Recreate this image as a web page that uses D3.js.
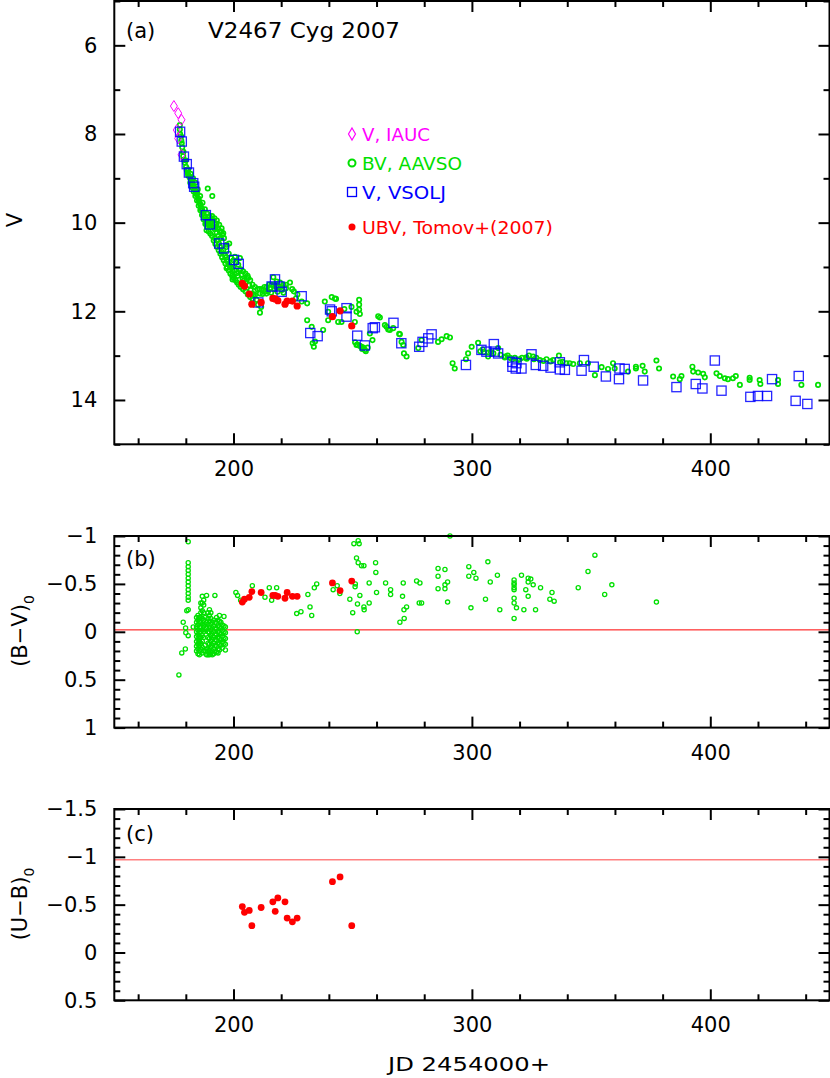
<!DOCTYPE html>
<html><head><meta charset="utf-8">
<script src="https://cdn.jsdelivr.net/npm/d3@7"></script>
<style>
body{margin:0;background:#fff;}
svg{display:block;}
text{font-family:"DejaVu Sans",sans-serif;fill:#000;}
</style></head>
<body>
<svg id="c" width="830" height="1078"></svg>
<script>
// ---------- DATA ----------
// Panel (a): V magnitude vs JD-2454000
const vIAUC = [[175.0,7.37],[176.8,7.53],[178.2,7.68],[176.2,7.91],[176.8,8.10],[178.2,8.47]];

const vVSOLJ = [
 [177.6,7.95],[178.3,8.17],[179.2,8.51],[180.4,8.68],[181.3,8.87],[183.1,9.11],[183.5,9.19],
 [188.4,9.83],[190.1,10.04],[194.0,10.47],[196.0,10.58],[200.2,10.84],[202.2,10.93],
 [217.4,11.28],[216.0,11.44],[219.3,11.44],[220.2,11.56],[228.6,11.66],[210.4,11.80],
 [240.5,11.96],[241.2,12.0],[247.4,11.93],[247.4,12.12],[232.2,12.49],[235.3,12.56],
 [251.9,12.55],[255.1,12.77],[258.4,12.38],[259.3,12.36],[267.1,12.26],[270.4,12.72],
 [277.9,12.80],[279.3,12.69],[281.7,12.61],[283.1,12.52],[297.5,13.21],[304.0,12.87],
 [306.1,12.91],[309.2,12.74],[309.6,12.91],[311.0,12.95],[317.0,13.14],[317.0,13.25],
 [318.7,13.17],[318.4,13.29],[320.8,13.29],[325.0,12.97],[326.8,13.21],[329.9,13.23],
 [333.0,13.27],[336.9,13.15],[336.9,13.31],[339.0,13.32],[346.0,13.34],[347.0,13.10],
 [351.1,13.25],[356.2,13.47],[361.7,13.53],[361.9,13.29],[364.1,13.30],[371.8,13.56],
 [385.8,13.71],[393.9,13.64],[396.7,13.74],[401.9,13.11],[404.7,13.79],[416.8,13.93],
 [420.0,13.91],[423.8,13.91],[425.9,13.53],[435.8,14.02],[437.1,13.46],[440.7,14.09]
];

const vAAVSO = [
 [177.5,7.8],[177.5,7.9],[177.6,8.0],[178.0,8.05],[178.1,8.15],[178.3,8.21],[178.5,8.3],[178.7,8.4],
 [178.9,8.5],[179.2,8.58],[179.6,8.65],[180.1,8.74],[180.4,8.82],[180.8,8.88],[181.0,8.93],
 [181.5,8.96],[181.8,9.0],[182.2,9.05],[182.5,9.1],[182.9,9.12],[183.2,9.17],[183.6,9.22],
 [183.8,9.26],[184.2,9.3],[184.5,9.36],[184.8,9.34],[185.2,9.45],[185.5,9.5],[185.8,9.56],
 [186.2,9.6],[186.6,9.68],[186.9,9.72],[187.3,9.79],[187.7,9.84],[188.0,9.88],[188.4,9.93],
 [188.7,10.0],[188.7,10.17],[189.1,9.97],[189.4,10.02],[189.8,10.06],[190.2,10.1],[189.2,9.23],
 [191.1,9.40],[190.6,9.92],[191.0,9.97],[191.5,9.94],[191.5,10.08],[191.9,10.02],[192.2,10.15],
 [192.2,10.35],[192.6,10.1],[192.9,10.02],[192.9,10.22],[193.2,10.4],[193.6,10.13],[193.6,10.3],
 [193.9,10.47],[194.3,10.2],[194.3,10.54],[194.6,10.35],[195.0,10.13],[195.0,10.66],[195.3,10.28],
 [195.7,10.24],[195.7,10.62],[196.1,10.7],[196.5,10.75],[197.1,10.5],[197.1,10.84],[197.1,11.03],
 [197.6,10.88],[198.2,10.47],[198.2,10.95],[198.5,10.98],[199.0,11.02],[199.6,11.1],[199.6,11.28],
 [200.0,11.0],[200.6,10.77],[200.6,11.08],[201.3,11.14],[201.8,11.2],[202.7,10.8],[202.7,11.07],
 [203.4,11.18],[203.8,11.26],[204.4,11.3],[205.0,11.36],[205.9,11.2],[206.2,11.25],[206.6,11.41],
 [207.2,11.52],[207.8,11.6],[208.4,11.62],[209.0,11.63],[209.7,11.74],[210.3,11.85],[211.1,12.03],
 [211.1,11.6],[211.6,11.9],[212.2,11.61],[213.2,11.56],[213.8,11.6],[214.5,11.55],[215.3,11.48],
 [215.8,11.58],[216.7,11.23],[217.3,11.5],[218.1,11.33],[218.5,11.56],[219.5,11.35],[220.3,11.52],
 [221.0,11.58],[222.0,11.48],[223.7,11.35],[224.6,11.5],[225.3,11.55],[226.2,11.71],[226.8,11.62],
 [179.0,8.4],[180.0,8.6],[180.6,8.8],[181.0,8.8],[181.2,8.95],[181.9,9.1],[182.0,8.9],[182.6,9.2],
 [183.0,9.0],[183.3,9.3],[184.0,9.1],[184.0,9.4],[184.7,9.5],[185.0,9.25],[185.4,9.62],[186.0,9.4],
 [186.1,9.72],[186.8,9.83],[187.0,9.55],[187.5,9.93],[188.0,9.7],[188.2,10.03],[188.9,10.1],
 [189.0,9.8],[189.6,10.2],[190.0,9.85],[190.3,10.25],[191.0,9.85],[191.0,10.3],[191.7,10.4],
 [192.0,9.9],[192.4,10.48],[193.0,9.95],[193.1,10.55],[193.8,10.62],[194.0,10.05],[194.5,10.7],
 [195.0,10.2],[195.2,10.78],[195.9,10.85],[196.0,10.35],[196.6,10.92],[197.0,10.55],[197.3,11.0],
 [198.0,10.7],[198.0,11.08],[198.7,11.15],[199.0,10.8],[199.4,11.2],[200.0,10.85],[200.1,11.25],
 [200.8,11.3],[201.0,10.9],[201.5,11.35],[202.0,10.95],[202.2,11.4],[203.0,11.05],[203.0,11.45],
 [204.0,11.1],[204.0,11.5],[205.0,11.15],[205.0,11.55],[206.0,11.62],[207.0,11.3],[207.0,11.68],
 [208.0,11.4],[208.0,11.72],[209.0,11.45],[210.0,11.5],[211.0,11.5],[212.0,11.5],[213.0,11.45],
 [214.0,11.45],[215.0,11.4],[216.0,11.4],[217.0,11.42],[218.0,11.45],[219.0,11.45],[220.0,11.45],
 [221.0,11.4],[222.0,11.4],
 [228.6,11.78],[230.9,11.82],[230.9,12.2],[232.8,12.35],[233.2,12.72],[233.7,12.8],[234.2,12.68],
 [237.6,12.42],[238.3,11.78],[239.7,12.01],[239.7,12.2],[241.2,11.68],[242.5,11.71],[243.0,11.72],
 [243.9,12.24],[245.3,12.24],[246.5,11.95],[249.5,11.9],[250.9,12.24],[251.6,12.01],[251.6,12.76],
 [252.7,11.74],[252.7,11.85],[252.7,11.96],[253.0,12.06],[253.7,12.8],[254.4,12.82],[255.1,12.87],
 [251.0,12.7],[252.0,12.75],[253.0,12.78],[254.0,12.85],[255.5,12.9],[256.3,12.82],
 [257.2,12.5],[258.3,12.65],[260.7,12.11],[261.4,12.14],[263.5,12.31],[264.2,12.35],[264.9,12.41],
 [265.6,12.42],[267.0,12.38],[269.5,12.51],[269.8,12.52],[270.5,12.69],[271.2,12.76],[271.5,12.95],
 [272.6,13.02],[277.5,12.83],[278.9,12.65],[285.8,12.69],[287.3,12.63],[289.4,12.56],[290.8,12.59],
 [291.9,13.17],[292.8,13.29],[297.5,13.08],[298.4,12.95],[299.9,12.8],[302.6,12.71],[304.5,12.86],
 [303.5,12.9],[305.0,12.92],[307.0,12.93],[309.0,12.95],[312.0,12.98],[314.0,13.02],[316.0,13.05],
 [318.0,13.05],[320.0,13.08],[323.0,13.07],[326.0,13.08],[330.0,13.12],[333.0,13.13],[337.0,13.15],
 [341.0,13.17],
 [306.8,13.02],[308.0,12.92],[311.0,12.83],[313.8,13.04],[315.0,13.0],[317.0,13.08],[319.4,13.1],
 [321.0,13.05],[322.9,13.04],[324.0,13.0],[325.7,13.02],[327.0,13.05],[328.5,13.1],[331.3,13.08],
 [334.1,13.1],[336.5,13.0],[338.0,13.14],[339.7,13.17],[342.5,13.19],[345.3,13.17],[348.7,13.17],
 [351.6,13.44],[354.4,13.26],[357.1,13.3],[359.2,13.17],[359.9,13.29],[365.5,13.36],[368.8,13.25],
 [368.8,13.29],[371.6,13.23],[372.5,13.36],[377.4,13.11],[378.5,13.29],[384.4,13.47],[387.2,13.53],
 [387.9,13.46],[392.5,13.25],[392.8,13.36],[394.9,13.38],[397.0,13.41],[397.7,13.49],[402.6,13.4],
 [404.0,13.46],[406.1,13.51],[407.4,13.53],[409.5,13.51],[410.7,13.46],[412.4,13.66],[416.5,13.55],
 [416.5,13.5],[420.7,13.55],[421.0,13.64],[428.4,13.55],[428.4,13.64],[438.2,13.66],[445.2,13.66]
];

// Tomov+(2007) UBV photometry
const tomovJD = [203.7,204.6,206.6,207.7,211.6,216.5,217.5,218.6,221.6,222.5,224.7,226.7,241.5,244.7,249.6];
const tomovV  = [11.37,11.43,11.61,11.84,11.80,11.71,11.72,11.76,11.84,11.77,11.77,11.88,12.12,11.99,12.33];
const tomovBV = [-0.31,-0.34,-0.36,-0.42,-0.41,-0.38,-0.38,-0.37,-0.35,-0.41,-0.37,-0.37,-0.51,-0.43,-0.53];
const tomovUB = [-0.48,-0.42,-0.44,-0.28,-0.47,-0.53,-0.43,-0.57,-0.53,-0.36,-0.32,-0.36,-0.74,-0.79,-0.28];

// Panel (b): AAVSO (B-V)0
const bvAAVSO = [
 [177.1,0.45],[178.3,0.22],[178.9,-0.10],[179.8,0.18],[179.9,-0.04],[180.0,0.01],[180.4,-0.22],
 [181.0,-0.23],[181.0,0.04],[181.0,-0.94],[181.0,-0.72],[181.0,-0.68],[181.0,-0.64],[181.0,-0.60],
 [181.0,-0.56],[181.0,-0.52],[181.0,-0.48],[181.0,-0.44],[181.0,-0.40],[181.0,-0.36],[181.0,-0.33],
 [183.1,-0.05],
 [184.5,-0.15],[184.5,-0.10],[184.5,-0.05],[184.5,0.0],[184.5,0.05],[184.5,0.10],[184.5,0.15],[184.5,0.20],
 [185.1,-0.17],[185.1,-0.12],[185.1,-0.07],[185.1,-0.02],[185.1,0.03],[185.1,0.08],[185.1,0.13],[185.1,0.18],[185.1,0.23],
 [185.7,-0.15],[185.7,-0.10],[185.7,-0.05],[185.7,0.0],[185.7,0.05],[185.7,0.10],[185.7,0.15],[185.7,0.20],[185.7,0.24],
 [186.3,-0.30],[186.3,-0.25],[186.3,-0.20],[186.3,-0.15],[186.3,-0.10],[186.3,-0.05],[186.3,0.0],[186.3,0.06],[186.3,0.12],[186.3,0.18],
 [186.9,-0.37],[186.9,-0.30],[186.9,-0.22],[186.9,-0.14],[186.9,-0.08],[186.9,-0.02],[186.9,0.04],[186.9,0.10],[186.9,0.16],[186.9,0.22],
 [187.5,-0.33],[187.5,-0.28],[187.5,-0.20],[187.5,-0.12],[187.5,-0.06],[187.5,0.0],[187.5,0.06],[187.5,0.20],
 [188.1,-0.15],[188.1,-0.08],[188.1,-0.02],[188.1,0.14],[188.1,0.20],
 [188.7,-0.38],[188.7,-0.10],[188.7,-0.04],[188.7,0.18],[188.7,0.24],
 [189.3,-0.20],[189.3,-0.14],[189.3,-0.08],[189.3,0.0],[189.3,0.06],[189.3,0.12],[189.3,0.18],[189.3,0.24],
 [189.9,-0.23],[189.9,-0.17],[189.9,-0.11],[189.9,-0.05],[189.9,0.01],[189.9,0.07],[189.9,0.13],[189.9,0.19],[189.9,0.24],
 [190.5,-0.20],[190.5,-0.14],[190.5,-0.08],[190.5,-0.02],[190.5,0.04],[190.5,0.10],[190.5,0.16],[190.5,0.22],
 [191.1,-0.10],[191.1,-0.04],[191.1,0.02],[191.1,0.08],[191.1,0.14],[191.1,0.20],[191.1,0.24],
 [191.7,-0.12],[191.7,-0.06],[191.7,0.0],[191.7,0.06],[191.7,0.12],[191.7,0.18],[191.7,0.23],
 [192.2,-0.38],[192.3,-0.10],[192.3,-0.04],[192.3,0.02],[192.3,0.08],[192.3,0.14],[192.3,0.20],
 [192.9,-0.15],[192.9,-0.09],[192.9,-0.03],[192.9,0.03],[192.9,0.09],[192.9,0.15],[192.9,0.21],
 [193.5,-0.12],[193.5,-0.06],[193.5,0.0],[193.5,0.06],[193.5,0.12],[193.5,0.18],[193.5,0.22],
 [194.1,-0.17],[194.1,-0.11],[194.1,-0.05],[194.1,0.01],[194.1,0.07],[194.1,0.13],[194.1,0.19],
 [194.7,-0.10],[194.7,-0.04],[194.7,0.02],[194.7,0.08],[194.7,0.14],
 [195.3,-0.07],[195.3,-0.01],[195.3,0.05],[195.3,0.11],[195.3,0.17],
 [196.0,-0.16],[196.0,-0.06],[196.0,0.0],[196.0,0.06],[196.0,0.12],
 [196.6,-0.05],[196.6,0.01],[196.6,0.07],[196.6,0.13],[196.6,0.19],
 [201.0,-0.41],[201.7,-0.38],[203.0,-0.33],[207.9,-0.48],[213.2,-0.36],[215.0,-0.46],[216.0,-0.33],
 [218.1,-0.46],[226.5,-0.19],[228.3,-0.21],[231.2,-0.39],[232.1,-0.26],[232.8,-0.17],[233.9,-0.46],
 [234.9,-0.50],[241.8,-0.44],[243.5,-0.48],[244.6,-0.40],[248.8,-0.34],[250.0,-0.20],[250.5,-0.92],
 [252.3,-0.95],[252.7,-0.92],[251.6,-0.77],[252.3,-0.72],[253.7,-0.69],[254.7,-0.69],[251.0,-0.47],
 [251.1,-0.50],[252.0,-0.29],[253.0,-0.38],[254.7,-0.26],[254.8,-0.23],[256.9,-0.30],[256.9,-0.51],
 [251.9,0.0],[259.6,-0.72],[259.7,-0.62],[260.0,-0.41],[263.8,-0.51],[265.9,-0.44],[265.9,-0.39],
 [269.8,-0.10],[270.9,-0.37],[271.2,-0.51],[271.5,-0.23],[271.6,-0.14],[272.6,-0.26],[276.8,-0.53],
 [277.9,-0.30],[278.2,-0.51],[278.9,-0.30],[290.8,-1.0],[285.8,-0.66],[285.8,-0.58],[285.8,-0.45],
 [288.7,-0.65],[288.7,-0.49],[288.7,-0.45],[289.8,-0.52],[289.8,-0.31],[298.7,-0.68],[298.7,-0.58],
 [299.6,-0.25],[300.8,-0.62],[301.7,-0.56],[305.7,-0.34],[306.7,-0.73],[307.7,-0.52],[310.7,-0.59],
 [311.7,-0.23],[317.7,-0.54],[317.7,-0.51],[317.7,-0.49],[317.7,-0.46],[317.7,-0.44],[317.7,-0.35],
 [317.7,-0.30],[317.7,-0.14],[318.7,-0.25],[320.8,-0.59],[321.8,-0.23],[322.6,-0.44],[323.6,-0.56],
 [323.6,-0.52],[323.6,-0.37],[324.7,-0.55],[325.7,-0.49],[326.7,-0.23],[328.8,-0.46],[332.7,-0.34],
 [333.6,-0.41],[334.5,-0.32],[344.6,-0.46],[348.7,-0.63],[351.6,-0.80],[355.7,-0.39],[358.7,-0.49],
 [377.4,-0.31]
];

// Reference lines (intrinsic colours)
const bvLine = [-0.02];
const ubLine = [-0.97];

// Axis ticks
const xMajor = [200,300,400];
const xMinor = [160,180,220,240,260,280,320,340,360,380,420,440];
const vMajor = [6,8,10,12,14];
const vMinor = [5,7,9,11,13,15];
const bvMajor = [-1,-0.5,0,0.5,1];
const ubMajor = [-1.5,-1,-0.5,0,0.5];

// Legend entries
const legendLabels = ["V,  IAUC","BV,  AAVSO","V,  VSOLJ","UBV,  Tomov+(2007)"];

// ---------- DRAW ----------
const svg = d3.select("#c");
const x = d3.scaleLinear().domain([150,450]).range([114.3,829.5]);
const yA = d3.scaleLinear().domain([5,15]).range([1,444.3]);
const yB = d3.scaleLinear().domain([-1,1]).range([536,727.6]);
const yC = d3.scaleLinear().domain([-1.5,0.5]).range([809,1000.3]);

const GREEN = "#00e000", BLUE = "#0000ff", RED = "#ff0000", MAG = "#ff00ff";
const fmt = d => d3.format("")(d).replace("-", "\u2212");

function frame(y, yMajorV, yMinorV){
  const g = svg.append("g");
  const [y0,y1] = y.range();
  const [x0,x1] = x.range();
  const bot = g.append("g").attr("transform",`translate(0,${y1})`);
  bot.call(d3.axisBottom(x).tickValues(xMajor).tickSize(-11).tickPadding(17).tickFormat(d3.format("d")));
  bot.append("g").call(d3.axisBottom(x).tickValues(xMinor).tickSize(-6).tickFormat(""));
  const top = g.append("g").attr("transform",`translate(0,${y0})`);
  top.call(d3.axisTop(x).tickValues(xMajor).tickSize(-11).tickFormat(""));
  top.append("g").call(d3.axisTop(x).tickValues(xMinor).tickSize(-6).tickFormat(""));
  const left = g.append("g").attr("transform",`translate(${x0},0)`);
  left.call(d3.axisLeft(y).tickValues(yMajorV).tickSize(-11).tickPadding(17).tickFormat(fmt));
  left.append("g").call(d3.axisLeft(y).tickValues(yMinorV).tickSize(-6).tickFormat(""));
  const right = g.append("g").attr("transform",`translate(${x1},0)`);
  right.call(d3.axisRight(y).tickValues(yMajorV).tickSize(-11).tickFormat(""));
  right.append("g").call(d3.axisRight(y).tickValues(yMinorV).tickSize(-6).tickFormat(""));
  g.selectAll(".domain").remove();
  g.selectAll(".tick line").attr("stroke","#000").attr("stroke-width",2);
  g.selectAll(".tick text").attr("font-size",21).attr("font-family","DejaVu Sans").attr("fill","#000");
  g.append("rect").attr("x",x0).attr("y",y0).attr("width",x1-x0).attr("height",y1-y0)
    .attr("fill","none").attr("stroke","#000").attr("stroke-width",2);
  return g;
}

const minorTenth = (a,b,skip) => d3.range(Math.round(a*10), Math.round(b*10)+1).map(v=>v/10).filter(v=>!skip.some(s=>Math.abs(s-v)<1e-9));

// Panel (a)
svg.append("clipPath").attr("id","clipA").append("rect")
  .attr("x",x.range()[0]).attr("y",yA.range()[0]).attr("width",x.range()[1]-x.range()[0]).attr("height",yA.range()[1]-yA.range()[0]);
const pa = svg.append("g").attr("clip-path","url(#clipA)");
pa.selectAll("circle.aav").data(vAAVSO).join("circle")
  .attr("cx",d=>x(d[0])).attr("cy",d=>yA(d[1])).attr("r",2.2)
  .attr("fill","none").attr("stroke",GREEN).attr("stroke-width",1.7);
pa.selectAll("path.iauc").data(vIAUC).join("path")
  .attr("d",d=>{const cx=x(d[0]),cy=yA(d[1]);return `M${cx},${cy-5.5}L${cx+3.5},${cy}L${cx},${cy+5.5}L${cx-3.5},${cy}Z`;})
  .attr("fill","none").attr("stroke",MAG).attr("stroke-width",1);
pa.selectAll("rect.vs").data(vVSOLJ).join("rect")
  .attr("x",d=>x(d[0])-4.6).attr("y",d=>yA(d[1])-4.6).attr("width",9.2).attr("height",9.2)
  .attr("fill","none").attr("stroke",BLUE).attr("stroke-width",1.3).attr("stroke-opacity",0.85);
pa.selectAll("circle.tom").data(tomovJD).join("circle")
  .attr("cx",d=>x(d)).attr("cy",(d,i)=>yA(tomovV[i])).attr("r",3.6).attr("fill",RED);
frame(yA, vMajor, vMinor);

// legend
const lg = svg.append("g");
const lgY = [134,163,192,227], lgCol = [MAG,GREEN,BLUE,RED], lgLen = [68,100,84,191];
lg.append("path").attr("d",`M352,${lgY[0]-6}L355.5,${lgY[0]}L352,${lgY[0]+6}L348.5,${lgY[0]}Z`).attr("fill","none").attr("stroke",MAG).attr("stroke-width",1.2);
lg.append("circle").attr("cx",352).attr("cy",lgY[1]).attr("r",3.5).attr("fill","none").attr("stroke",GREEN).attr("stroke-width",2);
lg.append("rect").attr("x",347.5).attr("y",lgY[2]-4.5).attr("width",9).attr("height",9).attr("fill","none").attr("stroke",BLUE).attr("stroke-width",1.3);
lg.append("circle").attr("cx",352).attr("cy",lgY[3]).attr("r",3.5).attr("fill",RED);
lg.selectAll("text").data(legendLabels).join("text")
  .attr("x",362).attr("y",(d,i)=>lgY[i]+6.5).attr("font-size",17)
  .attr("textLength",(d,i)=>lgLen[i]).attr("lengthAdjust","spacingAndGlyphs")
  .style("fill",(d,i)=>lgCol[i]).text(d=>d);

svg.append("text").attr("x",126).attr("y",38).attr("font-size",21).text("(a)");
svg.append("text").attr("x",208).attr("y",38).attr("font-size",21).attr("textLength",192).attr("lengthAdjust","spacingAndGlyphs").text("V2467  Cyg  2007");
svg.append("text").attr("transform","translate(22,220) rotate(-90)").attr("text-anchor","middle").attr("font-size",21).text("V");

// Panel (b)
svg.selectAll("line.bvl").data(bvLine).join("line")
  .attr("x1",x.range()[0]).attr("x2",x.range()[1]).attr("y1",d=>yB(d)).attr("y2",d=>yB(d))
  .attr("stroke",RED).attr("stroke-width",1);
const pb = svg.append("g");
pb.selectAll("circle").data(bvAAVSO).join("circle")
  .attr("cx",d=>x(d[0])).attr("cy",d=>yB(d[1])).attr("r",2.1)
  .attr("fill","none").attr("stroke",GREEN).attr("stroke-width",1.3);
pb.selectAll("circle.t").data(tomovJD).join("circle").attr("class","t")
  .attr("cx",d=>x(d)).attr("cy",(d,i)=>yB(tomovBV[i])).attr("r",3.4).attr("fill",RED);
frame(yB, bvMajor, minorTenth(-1,1,bvMajor));
svg.append("text").attr("x",126).attr("y",566).attr("font-size",21).text("(b)");
const tb = svg.append("text").attr("transform","translate(27,631) rotate(-90)").attr("text-anchor","middle").attr("font-size",21);
tb.append("tspan").text("(B\u2212V)");
tb.append("tspan").attr("font-size",14).attr("dy",7).text("0");

// Panel (c)
svg.selectAll("line.ubl").data(ubLine).join("line")
  .attr("x1",x.range()[0]).attr("x2",x.range()[1]).attr("y1",d=>yC(d)).attr("y2",d=>yC(d))
  .attr("stroke","#ff8080").attr("stroke-width",1.5);
svg.append("g").selectAll("circle").data(tomovJD).join("circle")
  .attr("cx",d=>x(d)).attr("cy",(d,i)=>yC(tomovUB[i])).attr("r",3.4).attr("fill",RED);
frame(yC, ubMajor, minorTenth(-1.5,0.5,ubMajor));
svg.append("text").attr("x",126).attr("y",841).attr("font-size",21).text("(c)");
const tc = svg.append("text").attr("transform","translate(27,904) rotate(-90)").attr("text-anchor","middle").attr("font-size",21);
tc.append("tspan").text("(U\u2212B)");
tc.append("tspan").attr("font-size",14).attr("dy",7).text("0");

svg.append("text").attr("x",388).attr("y",1071).attr("font-size",20).attr("textLength",162).attr("lengthAdjust","spacingAndGlyphs").text("JD  2454000+");
</script>
</body></html>
